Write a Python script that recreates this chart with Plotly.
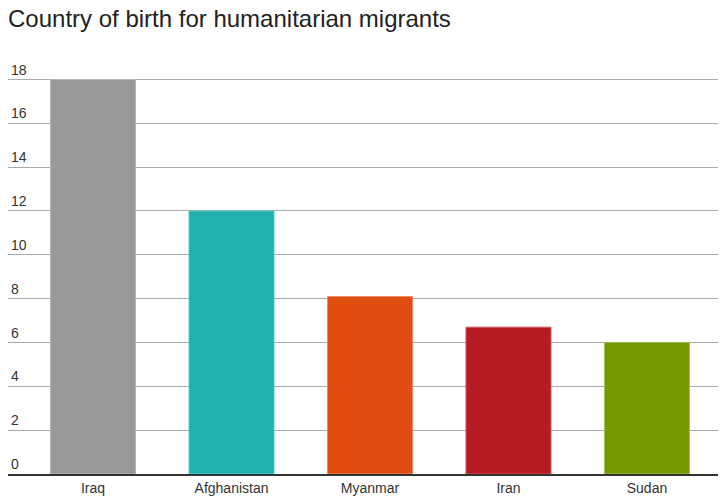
import plotly.graph_objects as go

# Data
countries = ["Iraq", "Afghanistan", "Myanmar", "Iran", "Sudan"]
values = [18, 12, 8.1, 6.7, 6]
bar_colors = ["#999999", "#20B0AE", "#E04E12", "#B71C22", "#749A02"]
edge_colors = ["#b5b5b5", "#5cc8c5", "#ee8a66", "#cf5a5f", "#a0bd55"]
y_ticks = [0, 2, 4, 6, 8, 10, 12, 14, 16, 18]

fig = go.Figure()

fig.add_trace(go.Bar(
    x=countries,
    y=values,
    marker=dict(color=bar_colors, line=dict(color=edge_colors, width=1)),
    hoverinfo="x+y",
))

# page body keeps an 8px margin, so the figure is sized to fit inside it
fig.update_layout(
    title=dict(
        text="Country of birth for humanitarian migrants",
        x=0, xanchor="left", y=0.978, yanchor="middle",
        font=dict(family="Arial, Liberation Sans", size=24, color="#222222"),
    ),
    margin=dict(l=0, r=0, t=43, b=17),
    paper_bgcolor="white",
    plot_bgcolor="white",
    showlegend=False,
    bargap=0.386,
    font=dict(family="Arial, Liberation Sans", size=14, color="#333333"),
    xaxis=dict(
        range=[-0.614, 4.513],
        showgrid=False,
        showline=True, linecolor="#333333", linewidth=2,
        ticks="", tickfont=dict(size=14, color="#333333"),
    ),
    yaxis=dict(
        range=[0, 19.3],
        tickvals=y_ticks,
        ticklabelposition="inside top",
        showgrid=True, gridcolor="#aaaaaa", gridwidth=1,
        zeroline=False,
        tickfont=dict(size=14, color="#333333"),
    ),
)

fig.write_html("out.html")
